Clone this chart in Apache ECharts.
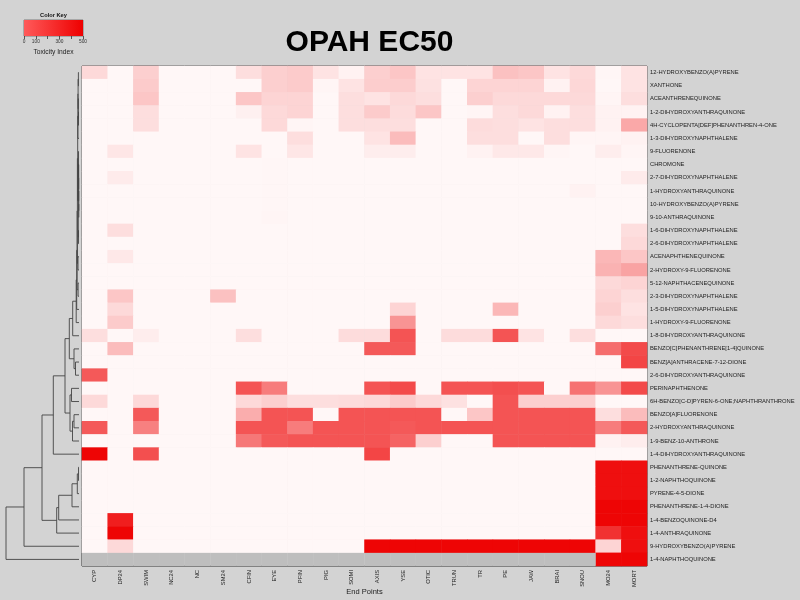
<!DOCTYPE html>
<html><head><meta charset="utf-8">
<script src="https://cdn.jsdelivr.net/npm/echarts/dist/echarts.min.js"></script>
<style>html,body{margin:0;padding:0;background:#D3D3D3;}#c{width:800px;height:600px;}</style>
</head><body><div id="c"></div>
<script>
const endPoints = ['CYP','DP24','SWIM','NC24','NC','SM24','CFIN','EYE','PFIN','PIG','SOMI','AXIS','YSE','OTIC','TRUN','TR','PE','JAW','BRAI','SNOU','MO24','MORT'];
const compounds = ['12-HYDROXYBENZO(A)PYRENE','XANTHONE','ACEANTHRENEQUINONE','1-2-DIHYDROXYANTHRAQUINONE','4H-CYCLOPENTA[DEF]PHENANTHREN-4-ONE','1-3-DIHYDROXYNAPHTHALENE','9-FLUORENONE','CHROMONE','2-7-DIHYDROXYNAPHTHALENE','1-HYDROXYANTHRAQUINONE','10-HYDROXYBENZO(A)PYRENE','9-10-ANTHRAQUINONE','1-6-DIHYDROXYNAPHTHALENE','2-6-DIHYDROXYNAPHTHALENE','ACENAPHTHENEQUINONE','2-HYDROXY-9-FLUORENONE','5-12-NAPHTHACENEQUINONE','2-3-DIHYDROXYNAPHTHALENE','1-5-DIHYDROXYNAPHTHALENE','1-HYDROXY-9-FLUORENONE','1-8-DIHYDROXYANTHRAQUINONE','BENZO[C]PHENANTHRENE[1-4]QUINONE','BENZ[A]ANTHRACENE-7-12-DIONE','2-6-DIHYDROXYANTHRAQUINONE','PERINAPHTHENONE','6H-BENZO[C-D]PYREN-6-ONE;NAPHTHRANTHRONE','BENZO[A]FLUORENONE','2-HYDROXYANTHRAQUINONE','1-9-BENZ-10-ANTHRONE','1-4-DIHYDROXYANTHRAQUINONE','PHENANTHRENE-QUINONE','1-2-NAPHTHOQUINONE','PYRENE-4-5-DIONE','PHENANTHRENE-1-4-DIONE','1-4-BENZOQUINONE-D4','1-4-ANTHRAQUINONE','9-HYDROXYBENZO(A)PYRENE','1-4-NAPHTHOQUINONE'];
// toxicity index per compound (row) and end point (column); null = not available
const toxicity = [
 [60,0,80,0,0,0,50,80,90,40,10,80,100,40,40,40,110,100,40,60,3,40],
 [0,0,90,0,0,0,0,80,90,5,40,85,85,45,0,70,70,70,10,65,0,40],
 [0,0,100,0,0,0,100,70,70,0,50,40,60,50,0,80,60,60,60,60,5,50],
 [0,0,50,0,0,0,15,60,70,0,50,90,55,100,0,5,50,60,10,50,10,10],
 [0,0,50,0,0,0,0,60,5,0,50,50,50,0,0,55,50,40,50,50,10,160],
 [0,0,0,0,0,0,0,0,50,0,0,40,120,0,0,50,50,0,50,5,5,10],
 [0,35,0,0,0,0,40,0,35,0,0,20,20,0,0,10,30,30,5,0,20,5],
 [0,0,0,0,0,0,0,3,0,0,0,0,0,0,0,0,0,0,0,0,0,0],
 [0,25,0,0,0,0,0,3,0,0,0,0,0,0,0,0,0,0,0,0,0,25],
 [0,0,0,0,0,0,0,3,0,0,0,0,0,0,0,0,0,0,0,10,0,0],
 [0,0,0,0,0,0,0,3,0,0,0,0,0,0,0,0,0,0,0,0,0,0],
 [0,0,0,0,0,0,0,5,0,0,0,0,0,0,0,0,0,0,0,0,0,0],
 [0,50,0,0,0,0,0,0,0,0,0,0,0,0,0,0,0,0,0,0,0,50],
 [0,0,0,0,0,0,0,0,0,0,0,0,0,0,0,0,0,0,0,0,0,60],
 [0,30,0,0,0,0,0,0,0,0,0,0,0,0,0,0,0,0,0,0,130,100],
 [0,0,0,0,0,0,0,0,0,0,0,0,0,0,0,0,0,0,0,0,140,170],
 [0,0,0,0,0,0,0,0,0,0,0,0,0,0,0,0,0,0,0,0,60,70],
 [0,100,0,0,0,110,0,0,0,0,0,0,0,0,0,0,0,0,0,0,70,50],
 [0,60,0,0,0,0,0,0,0,0,0,0,70,0,0,0,130,0,0,0,80,40],
 [0,90,0,0,0,0,0,0,0,0,0,0,200,0,0,0,0,0,0,0,60,50],
 [50,0,20,0,0,0,50,0,0,0,55,55,330,0,55,55,330,40,0,50,0,0],
 [0,120,0,0,0,0,0,0,0,0,0,320,320,0,0,0,0,0,0,0,280,350],
 [0,0,0,0,0,0,0,0,0,0,0,0,0,0,0,0,0,0,0,0,0,360],
 [320,0,0,0,0,0,0,0,0,0,0,0,0,0,0,0,0,0,0,0,0,0],
 [0,0,0,0,0,0,330,250,0,0,0,330,350,0,330,330,340,330,0,270,200,350],
 [60,0,60,0,0,0,60,80,50,50,55,60,90,60,45,0,330,80,80,80,0,0],
 [0,0,320,0,0,0,150,330,330,0,330,330,330,330,0,100,330,330,330,330,50,120],
 [320,0,240,0,0,0,330,330,250,330,330,330,320,330,330,330,330,330,330,330,250,320],
 [0,0,0,0,0,0,260,320,330,330,330,330,300,80,0,0,330,330,330,330,10,20],
 [490,0,340,0,0,0,0,0,0,0,0,360,0,0,0,0,0,0,0,0,0,0],
 [0,0,0,0,0,0,0,0,0,0,0,0,0,0,0,0,0,0,0,0,470,470],
 [0,0,0,0,0,0,0,0,0,0,0,0,0,0,0,0,0,0,0,0,470,470],
 [0,0,0,0,0,0,0,0,0,0,0,0,0,0,0,0,0,0,0,0,470,470],
 [0,0,0,0,0,0,0,0,0,0,0,0,0,0,0,0,0,0,0,0,490,490],
 [0,440,0,0,0,0,0,0,0,0,0,0,0,0,0,0,0,0,0,0,490,490],
 [0,490,0,0,0,0,0,0,0,0,0,0,0,0,0,0,0,0,0,0,400,470],
 [0,60,0,0,0,0,0,0,0,0,0,490,490,490,490,490,490,490,490,490,70,470],
 [null,null,null,null,null,null,null,null,null,null,null,null,null,null,null,null,null,null,null,null,490,490]
];
const keyTicks = [0,100,200,300,400,500];
const keyTickLabels = ['0','100','','300','','500'];
// row dendrogram: [mergeHeight, leftChild, rightChild]; leaves are row indices
const lowCluster =
 [2.8,
  [2.3,
   [1.9,
    [1.6,
     [1.3,
      [1.1, [0.9, [0.6,0,1], [0.7,2,[0.5,3,4]]], 5],
      [0.7, [0.5,6,[0.3,7,[0.3,8,[0.2,9,[0.2,10,11]]]]], [0.5,12,13]]],
     [1.0,14,15]],
    [0.9,16,17]],
   18],
  19];
const dendro =
 [73,
  [55,
   [37,
    [25.7,
     [14,
      [9.7, [6.3, lowCluster, 20], [5, 21, [3.5, 22, 23]]],
      [9, [7.5, 24, 25], [6.5, [5, 26, 27], 28]]],
     29],
    [22.3, [20.3, [7, [1.7, [0.5, 30, 31], 32], 33], 34], 35]],
   36],
  37];

const cells = [], naCells = [];
toxicity.forEach((row, i) => row.forEach((v, j) => {
  if (v === null) naCells.push([j, i]); else cells.push([j, i, v]);
}));
const segs = [];
function walk(n) {
  if (typeof n === 'number') return {y: n, h: 0};
  const L = walk(n[1]), R = walk(n[2]);
  segs.push([n[0], L.y, R.y, L.h, R.h]);
  return {y: (L.y + R.y) / 2, h: n[0]};
}
walk(dendro);

const FONT = 'Liberation Sans, Arial, Helvetica, sans-serif';
const chart = echarts.init(document.getElementById('c'), null, {renderer: 'canvas'});
const gridBase = {containLabel: false, outerBoundsMode: 'none'};
chart.setOption({
  backgroundColor: '#D3D3D3',
  animation: false,
  textStyle: {fontFamily: FONT},
  title: [{text: 'OPAH EC50', left: 364.5, top: 23, textAlign: 'center',
    textStyle: {fontSize: 30, fontWeight: 'bold', color: '#000', fontFamily: FONT}}],
  grid: [
    Object.assign({left: 82, top: 66, width: 565, height: 500, show: true, borderColor: '#333', borderWidth: 1, backgroundColor: 'transparent'}, gridBase),
    Object.assign({left: 6, top: 66, width: 73, height: 500}, gridBase),
    Object.assign({left: 24, top: 20, width: 59, height: 16, show: true, borderColor: '#666', borderWidth: 0.8}, gridBase)
  ],
  xAxis: [
    {gridIndex: 0, type: 'category', data: endPoints, position: 'bottom',
      axisLine: {show: false}, axisTick: {show: false}, splitLine: {show: false},
      axisLabel: {rotate: 90, interval: 0, fontSize: 5.8, color: '#222', margin: 4, fontFamily: FONT},
      name: 'End Points', nameLocation: 'middle', nameGap: 22, nameMoveOverlap: false,
      nameTextStyle: {fontSize: 7.5, color: '#222', fontFamily: FONT}},
    {gridIndex: 1, type: 'value', min: 0, max: 73, inverse: true, show: false},
    {gridIndex: 2, type: 'value', min: 0, max: 500, interval: 100,
      axisLine: {show: false}, splitLine: {show: false},
      axisTick: {show: true, length: 3, lineStyle: {color: '#333', width: 0.8}},
      axisLabel: {fontSize: 4.8, color: '#333', margin: 3, fontFamily: FONT,
        formatter: v => keyTickLabels[keyTicks.indexOf(v)] || ''},
      name: 'Toxicity Index', nameLocation: 'middle', nameGap: 13, nameMoveOverlap: false,
      nameTextStyle: {fontSize: 6.7, color: '#222', fontFamily: FONT}}
  ],
  yAxis: [
    {gridIndex: 0, type: 'category', data: compounds, inverse: true, position: 'right',
      axisLine: {show: false}, axisTick: {show: false}, splitLine: {show: false},
      axisLabel: {interval: 0, fontSize: 5.8, color: '#222', margin: 3, fontFamily: FONT}},
    {gridIndex: 1, type: 'value', min: -0.5, max: compounds.length - 0.5, inverse: true, show: false},
    {gridIndex: 2, type: 'value', min: 0, max: 1, show: false}
  ],
  visualMap: {type: 'continuous', min: 0, max: 500, show: false, seriesIndex: 0, dimension: 2,
    inRange: {color: ['#FFF7F7', '#EE0000']}},
  graphic: [{type: 'text', x: 53.5, y: 15.5, silent: true, style: {text: 'Color Key',
    align: 'center', verticalAlign: 'middle', fontSize: 5.7, fontWeight: 'bold', fill: '#111', fontFamily: FONT}}],
  series: [
    {type: 'heatmap', xAxisIndex: 0, yAxisIndex: 0, data: cells, progressive: 0,
      itemStyle: {borderWidth: 0}, emphasis: {disabled: true}},
    {type: 'custom', xAxisIndex: 0, yAxisIndex: 0, data: naCells, silent: true,
      renderItem: (p, api) => {
        const c = api.coord([api.value(0), api.value(1)]);
        const s = api.size([1, 1]);
        return {type: 'rect', shape: {x: c[0] - s[0] / 2, y: c[1] - s[1] / 2, width: s[0], height: s[1]},
          style: {fill: '#BEBEBE'}};
      }},
    {type: 'custom', xAxisIndex: 1, yAxisIndex: 1, data: segs, silent: true,
      encode: {x: [0, 3, 4], y: [1, 2]},
      renderItem: (p, api) => {
        const h = api.value(0), y1 = api.value(1), y2 = api.value(2), h1 = api.value(3), h2 = api.value(4);
        return {type: 'polyline', shape: {points: [api.coord([h1, y1]), api.coord([h, y1]), api.coord([h, y2]), api.coord([h2, y2])]},
          style: {stroke: '#444', lineWidth: 0.9, fill: null}};
      }},
    {type: 'custom', xAxisIndex: 2, yAxisIndex: 2, data: [[0, 500]], silent: true,
      renderItem: (p, api) => {
        const a = api.coord([api.value(0), 1]), b = api.coord([api.value(1), 0]);
        return {type: 'rect', shape: {x: a[0], y: a[1], width: b[0] - a[0], height: b[1] - a[1]},
          style: {fill: new echarts.graphic.LinearGradient(0, 0, 1, 0,
            [{offset: 0, color: '#FF5A5A'}, {offset: 1, color: '#EE0000'}])}};
      }}
  ]
});
</script></body></html>
